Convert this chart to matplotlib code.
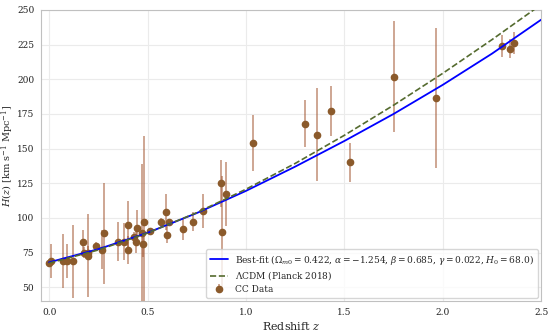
import matplotlib
matplotlib.use("Agg")
import matplotlib.pyplot as plt
import seaborn as sns

# cosmic chronometer + BAO H(z) points
z_cc = [0.0, 0.01, 0.07, 0.09, 0.12, 0.17, 0.179, 0.199, 0.20, 0.24, 0.27, 0.28,
        0.352, 0.3802, 0.40, 0.4004, 0.43, 0.44, 0.445, 0.47, 0.4783, 0.48,
        0.51, 0.57, 0.593, 0.60, 0.61, 0.68, 0.73, 0.781, 0.875, 0.88, 0.90,
        1.037, 1.30, 1.363, 1.43, 1.53, 1.75, 1.965, 2.30, 2.34, 2.36]
H_cc = [67.8, 69.0, 69.0, 69.0, 68.6, 83.0, 75.0, 75.0, 72.9, 79.69, 77.0, 88.8,
        83.0, 83.0, 95.0, 77.0, 86.45, 82.6, 92.8, 89.0, 80.9, 97.0,
        90.4, 96.8, 104.0, 87.9, 97.3, 92.0, 97.3, 105.0, 125.0, 90.0, 117.0,
        154.0, 168.0, 160.0, 177.0, 140.0, 202.0, 186.5, 224.0, 222.0, 226.0]
err_cc = [0.8, 12.0, 19.6, 12.0, 26.2, 8.0, 4.0, 5.0, 29.6, 2.65, 14.0, 36.6,
          14.0, 13.5, 17.0, 10.2, 3.68, 7.8, 12.9, 50.0, 9.0, 62.0,
          1.9, 3.4, 13.0, 6.1, 2.1, 8.0, 7.0, 12.0, 17.0, 40.0, 23.0,
          20.0, 17.0, 33.6, 18.0, 14.0, 40.0, 50.4, 8.0, 7.0, 8.0]

# model curves
z_model = [0.0, 0.25, 0.5, 0.75, 1.0, 1.25, 1.5, 1.75, 2.0, 2.25, 2.5]
H_fit = [68.0, 77.5, 89.3, 103.5, 119.5, 137.0, 155.5, 175.0, 196.0, 218.5, 243.0]
H_lcdm = [67.4, 76.9, 89.1, 103.8, 120.7, 139.3, 159.6, 181.3, 204.3, 228.6, 253.9]

sns.set_style("whitegrid", {'grid.color': '#ebebeb', 'axes.edgecolor': '#c0c0c0'})
plt.rcParams['font.family'] = ['DejaVu Serif']
plt.rcParams['mathtext.fontset'] = 'dejavuserif'

fig = plt.figure(figsize=(5.5, 3.32), dpi=100)
ax = fig.add_axes([0.075, 0.093, 0.909, 0.877])

ax.plot(z_model, H_fit, color='blue', lw=1.3, zorder=4,
        label=r'Best-fit ($\Omega_{m0}=0.422$, $\alpha=-1.254$, $\beta=0.685$, $\gamma=0.022$, $H_0=68.0$)')
ax.plot(z_model, H_lcdm, color='darkolivegreen', lw=1.2, ls='--', zorder=4,
        label=r'$\Lambda$CDM (Planck 2018)')
eb = ax.errorbar(z_cc, H_cc, yerr=err_cc, fmt='o', color='#8b5a2b', ms=4.5,
                 ecolor='sienna', elinewidth=1.2, label='CC Data', zorder=3)
eb[2][0].set_alpha(0.6)

ax.set_xlim(-0.04, 2.5)
ax.set_ylim(40, 250)
ax.set_xticks([0.0, 0.5, 1.0, 1.5, 2.0, 2.5])
ax.set_yticks([50, 75, 100, 125, 150, 175, 200, 225, 250])
ax.tick_params(labelsize=6.5, pad=1.5, labelcolor='#222222')
ax.set_xlabel(r'Redshift $z$', fontsize=8, labelpad=2)
ax.set_ylabel(r'$H(z)$ [km s$^{-1}$ Mpc$^{-1}$]', fontsize=7)
ax.yaxis.set_label_coords(-0.05, 0.5)

ax.legend(loc='lower right', fontsize=6.5, frameon=True, borderaxespad=0.4,
          handlelength=2.0, labelspacing=0.3)

fig.savefig('out.png', dpi=100)
